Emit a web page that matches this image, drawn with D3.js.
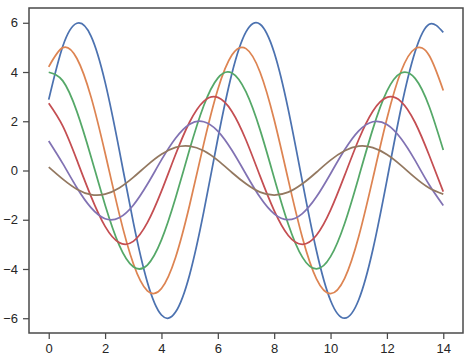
<!DOCTYPE html>
<html>
<head>
<meta charset="utf-8">
<script src="https://cdn.jsdelivr.net/npm/d3@7"></script>
<style>
  body { margin: 0; background: #fff; }
  svg { display: block; }
  .tick text { font-family: "Liberation Sans", Arial, sans-serif; font-size: 13px; fill: #262626; }
</style>
</head>
<body>
<svg id="chart" width="473" height="359"></svg>
<script>
// x sampled every 0.5 from 0 to 14
const xs = [0, 0.5, 1, 1.5, 2, 2.5, 3, 3.5, 4, 4.5, 5, 5.5, 6, 6.5, 7, 7.5, 8, 8.5, 9, 9.5, 10, 10.5, 11, 11.5, 12, 12.5, 13, 13.5, 14];

const blue = [2.88, 5.05, 5.98, 5.46, 3.59, 0.85, -2.10, -4.54, -5.87, -5.75, -4.23, -1.68, 1.29, 3.94, 5.63, 5.94, 4.79, 2.47, -0.45, -3.26, -5.28, -6.00, -5.25, -3.22, -0.40, 2.52, 4.82, 5.94, 5.61];
const orange = [4.21, 4.99, 4.55, 2.99, 0.71, -1.75, -3.78, -4.89, -4.79, -3.53, -1.40, 1.08, 3.29, 4.69, 4.95, 3.99, 2.06, -0.38, -2.72, -4.40, -5.00, -4.38, -2.68, -0.33, 2.10, 4.02, 4.95, 4.67, 3.25];
const green = [3.99, 3.64, 2.39, 0.56, -1.40, -3.03, -3.91, -3.84, -2.82, -1.12, 0.86, 2.63, 3.75, 3.96, 3.19, 1.65, -0.30, -2.18, -3.52, -4.00, -3.50, -2.15, -0.27, 1.68, 3.22, 3.96, 3.74, 2.60, 0.83];
const red = [2.73, 1.80, 0.42, -1.05, -2.27, -2.93, -2.88, -2.12, -0.84, 0.65, 1.97, 2.81, 2.97, 2.40, 1.24, -0.23, -1.63, -2.64, -3.00, -2.63, -1.61, -0.20, 1.26, 2.41, 2.97, 2.80, 1.95, 0.62, -0.86];
const purple = [1.20, 0.28, -0.70, -1.51, -1.96, -1.92, -1.41, -0.56, 0.43, 1.31, 1.88, 1.98, 1.60, 0.82, -0.15, -1.09, -1.76, -2.00, -1.75, -1.07, -0.13, 0.84, 1.61, 1.98, 1.87, 1.30, 0.41, -0.58, -1.42];
const brown = [0.14, -0.35, -0.76, -0.98, -0.96, -0.71, -0.28, 0.22, 0.66, 0.94, 0.99, 0.80, 0.41, -0.08, -0.54, -0.88, -1.00, -0.88, -0.54, -0.07, 0.42, 0.80, 0.99, 0.93, 0.65, 0.21, -0.29, -0.71, -0.96];

const xTicks = [0, 2, 4, 6, 8, 10, 12, 14];
const yTicks = [-6, -4, -2, 0, 2, 4, 6];

const series = [blue, orange, green, red, purple, brown];
const colors = ["#4c72b0", "#dd8452", "#55a868", "#c44e52", "#8172b3", "#937860"];

const svg = d3.select("#chart");
const plotL = 29, plotR = 463, plotT = 8, plotB = 333;

const x = d3.scaleLinear().domain([-0.7, 14.7]).range([plotL, plotR]);
const y = d3.scaleLinear().domain([-6.6, 6.6]).range([plotB, plotT]);

const line = d3.line()
  .x((d, i) => x(xs[i]))
  .y(d => y(d))
  .curve(d3.curveNatural);

svg.append("g")
  .selectAll("path")
  .data(series)
  .join("path")
  .attr("d", line)
  .attr("fill", "none")
  .attr("stroke", (d, i) => colors[i])
  .attr("stroke-width", 1.75);

const xAxis = svg.append("g")
  .attr("transform", `translate(0,${plotB})`)
  .call(d3.axisBottom(x).tickValues(xTicks).tickSize(6).tickPadding(5).tickFormat(d3.format("d")));
const yAxis = svg.append("g")
  .attr("transform", `translate(${plotL},0)`)
  .call(d3.axisLeft(y).tickValues(yTicks).tickSize(6).tickPadding(5)
    .tickFormat(d => d < 0 ? "\u2212" + Math.abs(d) : d));

[xAxis, yAxis].forEach(g => {
  g.select(".domain").remove();
  g.selectAll(".tick line").attr("stroke", "#4a4a4a").attr("stroke-width", 1.25);
});

svg.append("rect")
  .attr("x", plotL).attr("y", plotT)
  .attr("width", plotR - plotL).attr("height", plotB - plotT)
  .attr("fill", "none")
  .attr("stroke", "#4a4a4a")
  .attr("stroke-width", 1.5);
</script>
</body>
</html>
